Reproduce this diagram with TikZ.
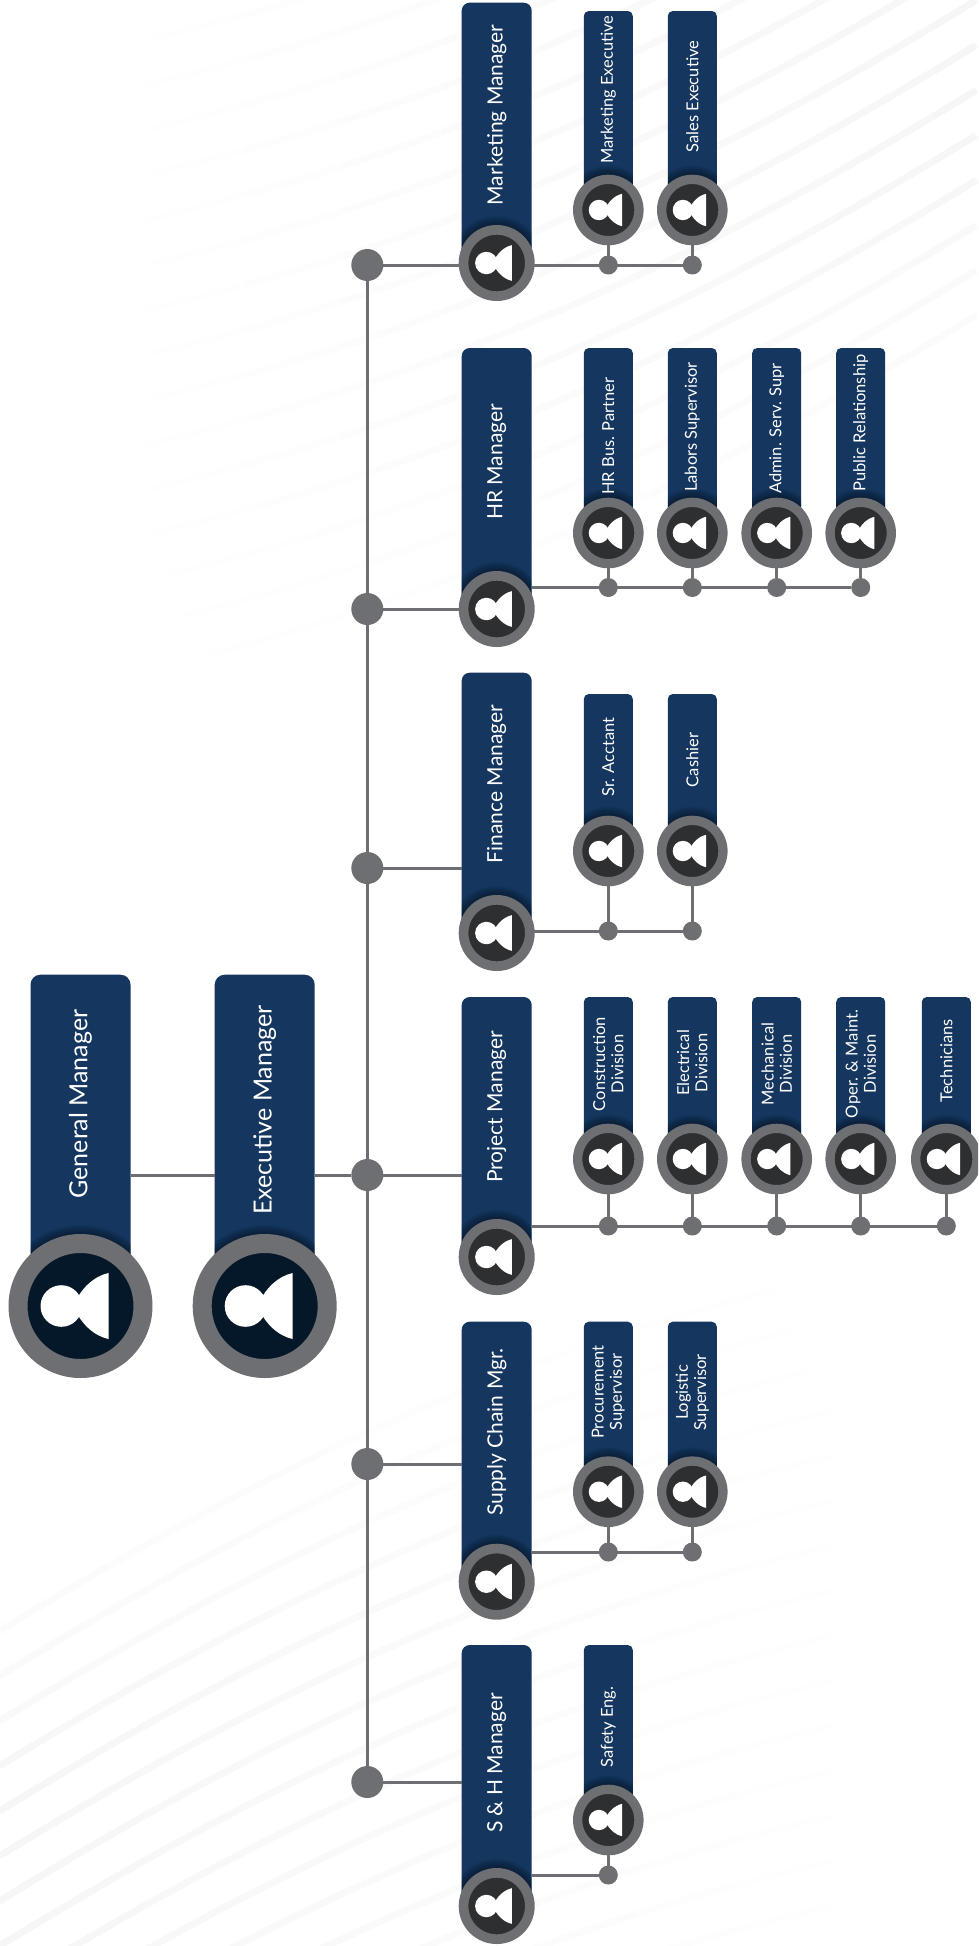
\documentclass[tikz,border=0pt]{standalone}
\usepackage{fontspec}
\setmainfont{Lato}
\usetikzlibrary{calc}
\usetikzlibrary{fadings}
\definecolor{barblue}{HTML}{14365F}
\definecolor{ringgray}{HTML}{6E6F72}
\definecolor{coredark}{HTML}{2E2F31}
\definecolor{corenavy}{HTML}{051829}
\newcommand{\gmrad}{72}
\newcommand{\mgrrad}{38}
\newcommand{\subrad}{35.3}
\tikzset{
    every node/.style={inner sep=0pt, outer sep=0pt},
    gmbar/.style={fill=barblue, rounded corners=10pt, minimum width=100pt},
    mgrbar/.style={fill=barblue, rounded corners=8pt, minimum width=70pt},
    subbar/.style={fill=barblue, rounded corners=5pt, minimum width=49pt},
    gmring/.style={circle, draw=ringgray, fill=corenavy, line width=19pt, minimum size=125pt},
    mgrring/.style={circle, draw=ringgray, fill=coredark, line width=9.7pt, minimum size=66.3pt},
    subring/.style={circle, draw=ringgray, fill=coredark, line width=9.3pt, minimum size=61.3pt},
    gmtext/.style={text=white, rotate=90, align=center, font=\fontsize{25}{29}\selectfont},
    mgrtext/.style={text=white, rotate=90, align=center, font=\fontsize{21}{25}\selectfont},
    subtext/.style={text=white, rotate=90, align=center, font=\fontsize{16.5}{18.3}\selectfont},
    gmicon/.style={scale=1},
    mgricon/.style={scale=.54},
    subicon/.style={scale=.49},
    bigdot/.style={circle, fill=ringgray, minimum size=32pt},
    subdot/.style={circle, fill=ringgray, minimum size=19pt},
    link/.style={draw=ringgray, line width=3pt},
    pics/personicon/.style={code={
        \fill[white] (-19.2,0) circle (20.8);
        \fill[white] (28,-33) .. controls (14,-30) and (0,-18) .. (-7,0)
            .. controls (0,18) and (14,30) .. (28,33) -- cycle;
    }}
}
% level, name, x, bar top, circle y, text y, text
\newcommand{\orgperson}[7]{
    \node[#1bar, anchor=north, minimum height={(#5-#4)*1pt}] (#2bar) at (#3,#4) {};
    \begin{scope}
        \clip (#2bar.north west) rectangle (#2bar.south east);
        \foreach \g in {1.5,3,...,9}
            \fill[black, opacity=.07] (#3,#5) circle ({\csname #1rad\endcsname+\g});
    \end{scope}
    \node[#1text] (#2text) at (#3,#6) {#7};
    \node[#1ring] (#2) at (#3,#5) {};
    \pic[#1icon] at (#3,#5) {personicon};
}
\begin{document}
\begin{tikzpicture}[x=1pt, y=-1pt]
    \useasboundingbox (0,0) rectangle (978,1946);
    \clip (0,0) rectangle (978,1946);
    % background stripes
    \foreach \yy in {-315,-270,...,345} {
        \pgfmathsetmacro\shd{\yy<120 ? 3.6 : 3.6-(\yy-120)*0.01}
        \draw[black!\shd, line width=7pt, path fading=west] (978,\yy)
            .. controls (700,\yy+170) and (450,\yy+290) .. (100,\yy+365);
        \draw[black!\shd, line width=7pt, path fading=east] (0,1946-\yy)
            .. controls (278,1776-\yy) and (528,1656-\yy) .. (878,1581-\yy);
    }

    \orgperson{gm}{gm}{80.5}{974.7}{1306}{1104}{General Manager}
    \orgperson{gm}{em}{264.7}{974.7}{1306}{1110}{Executive Manager}

    \orgperson{mgr}{mk}{496.7}{2.7}{263}{115}{Marketing Manager}
    \orgperson{mgr}{hr}{496.7}{348}{609}{462}{HR Manager}
    \orgperson{mgr}{fn}{496.7}{672.7}{933}{784}{Finance Manager}
    \orgperson{mgr}{pj}{496.7}{997}{1257}{1107}{Project Manager}
    \orgperson{mgr}{sc}{496.7}{1321.7}{1581.7}{1432}{Supply Chain Mgr.}
    \orgperson{mgr}{sh}{496.7}{1645}{1906}{1763}{S \& H Manager}

    \orgperson{sub}{mka}{608.3}{11}{210}{89.5}{Marketing Executive}
    \orgperson{sub}{mkb}{692.3}{11}{210}{96.5}{Sales Executive}

    \orgperson{sub}{hra}{608.3}{348}{533}{436}{HR Bus. Partner}
    \orgperson{sub}{hrb}{692.3}{348}{533}{427}{Labors Supervisor}
    \orgperson{sub}{hrc}{776.7}{348}{533}{428.5}{Admin. Serv. Supr}
    \orgperson{sub}{hrd}{860.7}{348}{533}{423}{Public Relationship}

    \orgperson{sub}{fna}{608.3}{694}{851}{757}{Sr. Acctant}
    \orgperson{sub}{fnb}{692.3}{694}{851}{760}{Cashier}

    \orgperson{sub}{pja}{608.3}{997}{1159}{1064}{Construction\\Division}
    \orgperson{sub}{pjb}{692.3}{997}{1159}{1063}{Electrical\\Division}
    \orgperson{sub}{pjc}{776.7}{997}{1159}{1064}{Mechanical\\Division}
    \orgperson{sub}{pjd}{860.7}{997}{1159}{1064}{Oper. \& Maint.\\Division}
    \orgperson{sub}{pje}{946.3}{997}{1159}{1061}{Technicians}

    \orgperson{sub}{sca}{608.3}{1321.7}{1491.7}{1392}{Procurement\\Supervisor}
    \orgperson{sub}{scb}{692.3}{1321.7}{1491.7}{1392.5}{Logistic\\Supervisor}

    \orgperson{sub}{sha}{608.3}{1645}{1820}{1727}{Safety Eng.}

    % junction dots on the spine
    \foreach \n/\y in {mk/265, hr/609, fn/868, pj/1175, sc/1464, sh/1782} {
        \node[bigdot] (\n dot) at (367.3,\y) {};
        \draw[link] (\n dot) -- (\n bar.west |- \n dot);
    }
    \draw[link] (mkdot) -- (shdot);
    \draw[link] (gmbar.east |- pjdot) -- (embar.west |- pjdot);
    \draw[link] (embar.east |- pjdot) -- (pjdot);

    % staff dots and their rows
    \foreach \n/\x/\y in {mka/608.3/265, mkb/692.3/265,
            hra/608.3/587.5, hrb/692.3/587.5, hrc/776.7/587.5, hrd/860.7/587.5,
            fna/608.3/931, fnb/692.3/931,
            pja/608.3/1226, pjb/692.3/1226, pjc/776.7/1226, pjd/860.7/1226, pje/946.3/1226,
            sca/608.3/1552, scb/692.3/1552,
            sha/608.3/1875} {
        \node[subdot] (\n dot) at (\x,\y) {};
        \draw[link] (\n) -- (\n dot);
    }
    \foreach \a/\b in {mk/mkb, hr/hrd, fn/fnb, pj/pje, sc/scb, sh/sha} {
        \draw[link] (\a bar.east |- \b dot) -- (\b dot);
    }
\end{tikzpicture}
\end{document}
